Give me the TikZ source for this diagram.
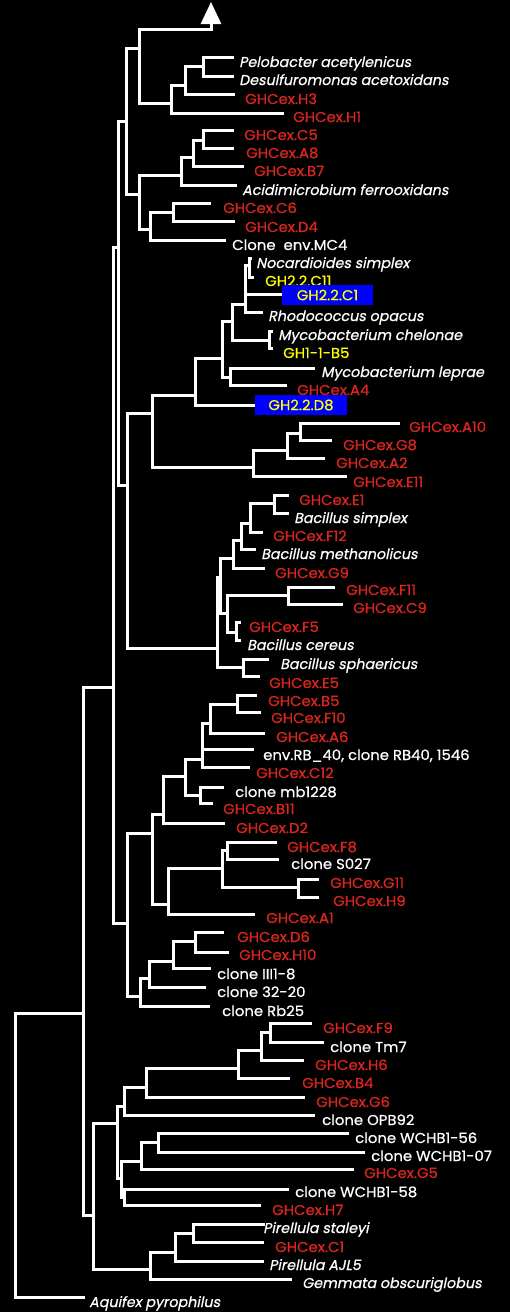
\documentclass[tikz,border=0pt]{standalone}
\usepackage{fontspec}
\setmainfont{Poppins}[FakeStretch=1.04, FakeBold=0.7]
\newfontfamily\itf{Poppins}[FakeSlant=0.2, FakeStretch=1.0, FakeBold=0.7]
\usetikzlibrary{arrows.meta}
\definecolor{gred}{RGB}{218,38,30}
\definecolor{gyel}{RGB}{255,255,0}
\definecolor{gblue}{RGB}{0,0,255}
\begin{document}
\begin{tikzpicture}[x=1pt,y=-1pt,
  br/.style={draw=white, line width=3pt, line cap=rect},
  lab/.style={anchor=base west, inner sep=0pt, font=\fontsize{14.3}{16}\selectfont},
  gh/.style={lab, text=gred},
  cl/.style={lab, text=white},
  ye/.style={lab, text=gyel},
  sp/.style={anchor=base west, inner sep=0pt, text=white, font=\fontsize{14.3}{16}\selectfont\itf},
  bx/.style={fill=gblue, text=gyel, inner sep=0pt, minimum height=20pt, font=\fontsize{14.3}{16}\selectfont}]
\fill[black] (0,0) rectangle (510,1312);
\useasboundingbox (0,0) rectangle (510,1312);

% ---------- internal nodes ----------
\coordinate (R0) at (15,1013);
\coordinate (N83) at (83,1013);
\coordinate (N113) at (113,687);
\coordinate (N118) at (118,247);
\coordinate (N126) at (126,121);
\coordinate (N139a) at (139,48);
\coordinate (N171) at (171,103);
\coordinate (N185) at (185,85);
\coordinate (N203a) at (203,66);
\coordinate (N139b) at (139,194);
\coordinate (N181) at (181,175);
\coordinate (N193) at (193,157);
\coordinate (N203b) at (203,140);
\coordinate (N150) at (150,229);
\coordinate (N173) at (173,212);
\coordinate (N127a) at (127,485);
\coordinate (N152a) at (152,413);
\coordinate (N195) at (195,395);
\coordinate (N222) at (222,358);
\coordinate (N232) at (232,321);
\coordinate (N245) at (245,304);
\coordinate (N249) at (249,265);
\coordinate (N269) at (269,340);
\coordinate (N230) at (230,377);
\coordinate (N253) at (253,467);
\coordinate (N287) at (287,450);
\coordinate (N300) at (300,433);
\coordinate (N217) at (217,648);
\coordinate (N220) at (220,577);
\coordinate (N233) at (233,558);
\coordinate (N241) at (241,540);
\coordinate (N250) at (250,523);
\coordinate (N274) at (274,503);
\coordinate (N227) at (227,613);
\coordinate (N288) at (288,595);
\coordinate (N236) at (236,632);
\coordinate (N243) at (243,667);
\coordinate (N127b) at (127,923);
\coordinate (N152b) at (152,833);
\coordinate (N163) at (163,814);
\coordinate (N185b) at (185,776);
\coordinate (N202) at (202,759);
\coordinate (N210) at (210,723);
\coordinate (N237) at (237,704);
\coordinate (N200) at (200,795);
\coordinate (N168) at (168,904);
\coordinate (N222b) at (222,868);
\coordinate (N227b) at (227,850);
\coordinate (N298) at (298,887);
\coordinate (N140) at (140,996);
\coordinate (N149) at (149,978);
\coordinate (N173b) at (173,961);
\coordinate (N195b) at (195,941);
\coordinate (N92) at (93,1215);
\coordinate (N117) at (117,1123);
\coordinate (N124) at (124,1106);
\coordinate (N146) at (146,1087);
\coordinate (N238) at (238,1068);
\coordinate (N261) at (261,1050);
\coordinate (N270) at (270,1032);
\coordinate (N121) at (121,1178);
\coordinate (N141) at (141,1161);
\coordinate (N158) at (158,1142);
\coordinate (N124b) at (124,1197);
\coordinate (N150b) at (150,1269);
\coordinate (N175) at (175,1252);
\coordinate (N193c) at (193,1233);

% ---------- leaf ends ----------
\coordinate (aC) at (211,29);
\coordinate (aT) at (211,2);
\coordinate (ePel) at (232,57);
\coordinate (eDes) at (232,76);
\coordinate (eH3) at (233,94);
\coordinate (eH1) at (282,113);
\coordinate (eC5) at (232,130);
\coordinate (eA8) at (232,148);
\coordinate (eB7) at (242,166);
\coordinate (eAci) at (235,185);
\coordinate (eC6) at (209,203);
\coordinate (eD4) at (233,221);
\coordinate (eMC4) at (224,240);
\coordinate (eNoc) at (250,258);
\coordinate (eC11) at (252,277);
\coordinate (eC1b) at (282,294);
\coordinate (eRho) at (261,312);
\coordinate (eChe) at (271,331);
\coordinate (eB5y) at (271,348);
\coordinate (eLep) at (313,368);
\coordinate (eA4) at (285,385);
\coordinate (eD8) at (255,405);
\coordinate (eA10) at (398,423);
\coordinate (eG8) at (330,440);
\coordinate (eA2) at (323,458);
\coordinate (eE11) at (345,476);
\coordinate (eE1) at (287,495);
\coordinate (eSim) at (287,513);
\coordinate (eF12) at (261,532);
\coordinate (eMet) at (254,549);
\coordinate (eG9) at (263,568);
\coordinate (eF11) at (333,587);
\coordinate (eC9) at (341,604);
\coordinate (eF5) at (239,622);
\coordinate (eCer) at (239,640);
\coordinate (eSph) at (267,659);
\coordinate (eE5) at (258,676);
\coordinate (eB5) at (255,695);
\coordinate (eF10) at (259,712);
\coordinate (eA6) at (263,733);
\coordinate (eRB) at (252,749);
\coordinate (eC12) at (248,767);
\coordinate (emb) at (222,787);
\coordinate (eB11) at (211,803);
\coordinate (eD2) at (223,823);
\coordinate (eF8) at (275,842);
\coordinate (eS027) at (277,859);
\coordinate (eG11) at (317,879);
\coordinate (eH9) at (317,897);
\coordinate (eA1) at (253,914);
\coordinate (eD6) at (222,932);
\coordinate (eH10) at (227,952);
\coordinate (eIII) at (209,968);
\coordinate (e3220) at (204,987);
\coordinate (eRb25) at (208,1006);
\coordinate (eF9) at (310,1023);
\coordinate (eTm7) at (322,1042);
\coordinate (eH6) at (302,1060);
\coordinate (eB4) at (288,1078);
\coordinate (eG6) at (303,1097);
\coordinate (eOPB) at (313,1115);
\coordinate (eW56) at (347,1133);
\coordinate (eW07) at (363,1152);
\coordinate (eG5) at (352,1169);
\coordinate (eW58) at (287,1189);
\coordinate (eH7) at (259,1205);
\coordinate (eSta) at (263,1224);
\coordinate (eC1) at (262,1242);
\coordinate (eAJL) at (262,1261);
\coordinate (eGem) at (290,1279);
\coordinate (eAqu) at (83,1297);

% ---------- branches ----------
\draw[br] (R0) |- (N83);   \draw[br] (R0) |- (eAqu);
\draw[br] (N83) |- (N113); \draw[br] (N83) |- (N92);
\draw[br] (N113) |- (N118); \draw[br] (N113) |- (N127b);
\draw[br] (N118) |- (N126); \draw[br] (N118) |- (N127a);
\draw[br] (N126) |- (N139a); \draw[br] (N126) |- (N139b);
\draw[br, -{Triangle[length=22pt,width=20pt]}] (N139a) |- (aC) -- (aT);
\draw[br] (N139a) |- (N171);
\draw[br] (N171) |- (N185); \draw[br] (N171) |- (eH1);
\draw[br] (N185) |- (N203a); \draw[br] (N185) |- (eH3);
\draw[br] (N203a) |- (ePel); \draw[br] (N203a) |- (eDes);
\draw[br] (N139b) |- (N181); \draw[br] (N139b) |- (N150);
\draw[br] (N181) |- (N193); \draw[br] (N181) |- (eAci);
\draw[br] (N193) |- (N203b); \draw[br] (N193) |- (eB7);
\draw[br] (N203b) |- (eC5); \draw[br] (N203b) |- (eA8);
\draw[br] (N150) |- (N173); \draw[br] (N150) |- (eMC4);
\draw[br] (N173) |- (eC6); \draw[br] (N173) |- (eD4);
\draw[br] (N127a) |- (N152a); \draw[br] (N127a) |- (N217);
\draw[br] (N152a) |- (N195); \draw[br] (N152a) |- (N253);
\draw[br] (N195) |- (N222); \draw[br] (N195) |- (eD8);
\draw[br] (N222) |- (N232); \draw[br] (N222) |- (N230);
\draw[br] (N232) |- (N245); \draw[br] (N232) |- (N269);
\draw[br] (N245) |- (N249); \draw[br] (N245) |- (eC1b); \draw[br] (N245) |- (eRho);
\draw[br] (N249) |- (eNoc); \draw[br] (N249) |- (eC11);
\draw[br] (N269) |- (eChe); \draw[br] (N269) |- (eB5y);
\draw[br] (N230) |- (eLep); \draw[br] (N230) |- (eA4);
\draw[br] (N253) |- (N287); \draw[br] (N253) |- (eE11);
\draw[br] (N287) |- (N300); \draw[br] (N287) |- (eA2);
\draw[br] (N300) |- (eA10); \draw[br] (N300) |- (eG8);
\draw[br] (N217) |- (N220); \draw[br] (N217) |- (N243);
\draw[br] (N220) |- (N233); \draw[br] (N220) |- (N227);
\draw[br] (N233) |- (N241); \draw[br] (N233) |- (eG9);
\draw[br] (N241) |- (N250); \draw[br] (N241) |- (eMet);
\draw[br] (N250) |- (N274); \draw[br] (N250) |- (eF12);
\draw[br] (N274) |- (eE1); \draw[br] (N274) |- (eSim);
\draw[br] (N227) |- (N288); \draw[br] (N227) |- (N236);
\draw[br] (N288) |- (eF11); \draw[br] (N288) |- (eC9);
\draw[br] (N236) |- (eF5); \draw[br] (N236) |- (eCer);
\draw[br] (N243) |- (eSph); \draw[br] (N243) |- (eE5);
\draw[br] (N127b) |- (N152b); \draw[br] (N127b) |- (N140);
\draw[br] (N152b) |- (N163); \draw[br] (N152b) |- (N168);
\draw[br] (N163) |- (N185b); \draw[br] (N163) |- (eD2);
\draw[br] (N185b) |- (N202); \draw[br] (N185b) |- (N200);
\draw[br] (N202) |- (N210); \draw[br] (N202) |- (eRB); \draw[br] (N202) |- (eC12);
\draw[br] (N210) |- (N237); \draw[br] (N210) |- (eA6);
\draw[br] (N237) |- (eB5); \draw[br] (N237) |- (eF10);
\draw[br] (N200) |- (emb); \draw[br] (N200) |- (eB11);
\draw[br] (N168) |- (N222b); \draw[br] (N168) |- (eA1);
\draw[br] (N222b) |- (N227b); \draw[br] (N222b) |- (N298);
\draw[br] (N227b) |- (eF8); \draw[br] (N227b) |- (eS027);
\draw[br] (N298) |- (eG11); \draw[br] (N298) |- (eH9);
\draw[br] (N140) |- (N149); \draw[br] (N140) |- (eRb25);
\draw[br] (N149) |- (N173b); \draw[br] (N149) |- (e3220);
\draw[br] (N173b) |- (N195b); \draw[br] (N173b) |- (eIII);
\draw[br] (N195b) |- (eD6); \draw[br] (N195b) |- (eH10);
\draw[br] (N92) |- (N117); \draw[br] (N92) |- (N150b);
\draw[br] (N117) |- (N124); \draw[br] (N117) |- (N121);
\draw[br] (N124) |- (N146); \draw[br] (N124) |- (eOPB);
\draw[br] (N146) |- (N238); \draw[br] (N146) |- (eG6);
\draw[br] (N238) |- (N261); \draw[br] (N238) |- (eB4);
\draw[br] (N261) |- (N270); \draw[br] (N261) |- (eH6);
\draw[br] (N270) |- (eF9); \draw[br] (N270) |- (eTm7);
\draw[br] (N121) |- (N141); \draw[br] (N121) |- (N124b);
\draw[br] (N141) |- (N158); \draw[br] (N141) |- (eG5);
\draw[br] (N158) |- (eW56); \draw[br] (N158) |- (eW07);
\draw[br] (N124b) |- (eW58); \draw[br] (N124b) |- (eH7);
\draw[br] (N150b) |- (N175); \draw[br] (N150b) |- (eGem);
\draw[br] (N175) |- (N193c); \draw[br] (N175) |- (eAJL);
\draw[br] (N193c) |- (eSta); \draw[br] (N193c) |- (eC1);

% ---------- labels ----------
\node[sp] (tPel) at (239,67) {Pelobacter acetylenicus};
\node[sp] (tDes) at (239,85) {Desulfuromonas acetoxidans};
\node[gh] (tH3) at (245,104) {GHCex.H3};
\node[gh] (tH1) at (293,122) {GHCex.H1};
\node[gh] (tC5) at (244,140) {GHCex.C5};
\node[gh] (tA8) at (246,158) {GHCex.A8};
\node[gh] (tB7) at (254,176) {GHCex.B7};
\node[sp] (tAci) at (242,195) {Acidimicrobium ferrooxidans};
\node[gh] (tC6) at (223,213) {GHCex.C6};
\node[gh] (tD4) at (245,232) {GHCex.D4};
\node[cl] (tMC4) at (232,250) {Clone\ \ env.MC4};
\node[sp] (tNoc) at (256,268) {Nocardioides simplex};
\node[ye] (tC11) at (265,286) {GH2.2.C11};
\node[bx, minimum width=91pt] (tC1b) at (327.5,295) {GH2.2.C1};
\node[sp] (tRho) at (268,321) {Rhodococcus opacus};
\node[sp] (tChe) at (278,340) {Mycobacterium chelonae};
\node[ye] (tB5y) at (283,358) {GH1-1-B5};
\node[sp] (tLep) at (321,377) {Mycobacterium leprae};
\node[gh] (tA4) at (297,395) {GHCex.A4};
\node[bx, minimum width=92pt] (tD8) at (301,405) {GH2.2.D8};
\node[gh] (tA10) at (409,432) {GHCex.A10};
\node[gh] (tG8) at (343,450) {GHCex.G8};
\node[gh] (tA2) at (336,468) {GHCex.A2};
\node[gh] (tE11) at (353,487) {GHCex.E11};
\node[gh] (tE1) at (299,505) {GHCex.E1};
\node[sp] (tSim) at (294,523) {Bacillus simplex};
\node[gh] (tF12) at (273,541) {GHCex.F12};
\node[sp] (tMet) at (261,559) {Bacillus methanolicus};
\node[gh] (tG9) at (275,578) {GHCex.G9};
\node[gh] (tF11) at (346,595) {GHCex.F11};
\node[gh] (tC9) at (353,613) {GHCex.C9};
\node[gh] (tF5) at (249,632) {GHCex.F5};
\node[sp] (tCer) at (247,650) {Bacillus cereus};
\node[sp] (tSph) at (280,669) {Bacillus sphaericus};
\node[gh] (tE5) at (269,688) {GHCex.E5};
\node[gh] (tB5) at (268,706) {GHCex.B5};
\node[gh] (tF10) at (271,723) {GHCex.F10};
\node[gh] (tA6) at (276,742) {GHCex.A6};
\node[cl] (tRB) at (263,760) {env.RB\_40, clone RB40, 1546};
\node[gh] (tC12) at (256,778) {GHCex.C12};
\node[cl] (tmb) at (235,797) {clone mb1228};
\node[gh] (tB11) at (223,814) {GHCex.B11};
\node[gh] (tD2) at (236,833) {GHCex.D2};
\node[gh] (tF8) at (287,852) {GHCex.F8};
\node[cl] (tS027) at (291,869) {clone S027};
\node[gh] (tG11) at (330,888) {GHCex.G11};
\node[gh] (tH9) at (333,906) {GHCex.H9};
\node[gh] (tA1) at (266,923) {GHCex.A1};
\node[gh] (tD6) at (237,942) {GHCex.D6};
\node[gh] (tH10) at (239,960) {GHCex.H10};
\node[cl] (tIII) at (217,979) {clone III1-8};
\node[cl] (t3220) at (217,997) {clone 32-20};
\node[cl] (tRb25) at (222,1016) {clone Rb25};
\node[gh] (tF9) at (323,1033) {GHCex.F9};
\node[cl] (tTm7) at (330,1052) {clone Tm7};
\node[gh] (tH6) at (315,1070) {GHCex.H6};
\node[gh] (tB4) at (302,1088) {GHCex.B4};
\node[gh] (tG6) at (316,1107) {GHCex.G6};
\node[cl] (tOPB) at (322,1125) {clone OPB92};
\node[cl] (tW56) at (355,1143) {clone WCHB1-56};
\node[cl] (tW07) at (371,1161) {clone WCHB1-07};
\node[gh] (tG5) at (364,1178) {GHCex.G5};
\node[cl] (tW58) at (295,1197) {clone WCHB1-58};
\node[gh] (tH7) at (272,1215) {GHCex.H7};
\node[sp] (tSta) at (263,1233) {Pirellula staleyi};
\node[gh] (tC1) at (275,1252) {GHCex.C1};
\node[sp] (tAJL) at (269,1270) {Pirellula AJL5};
\node[sp] (tGem) at (302,1288) {Gemmata obscuriglobus};
\node[sp] (tAqu) at (89,1307) {Aquifex pyrophilus};
\end{tikzpicture}
\end{document}
